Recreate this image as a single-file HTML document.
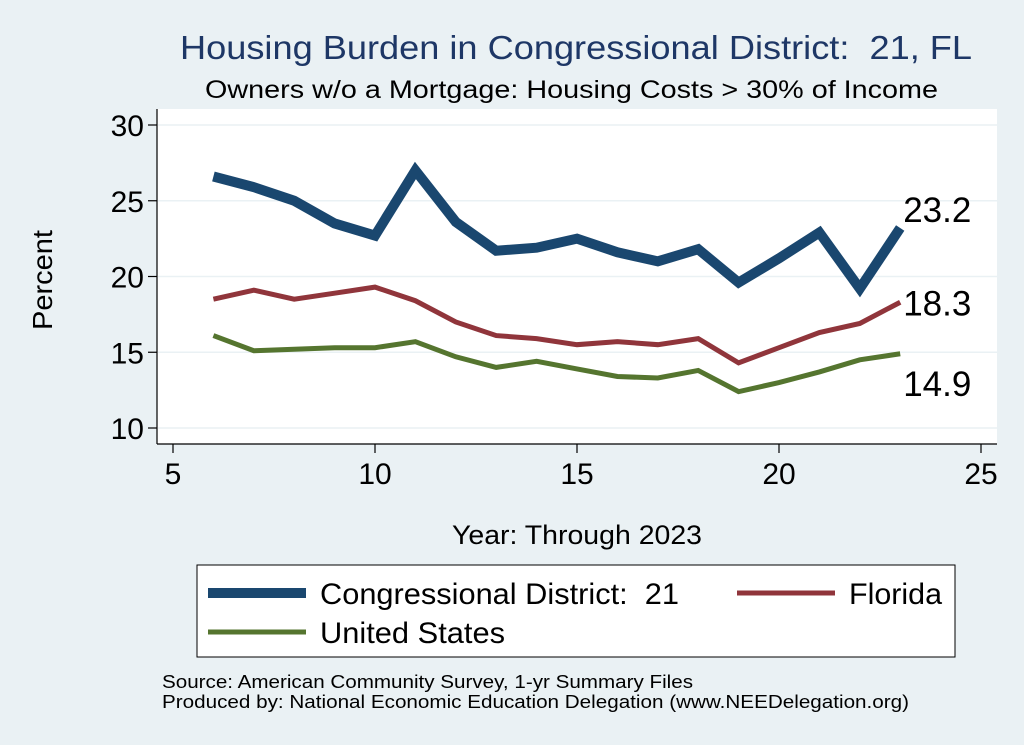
<!DOCTYPE html>
<html><head><meta charset="utf-8"><style>
body{margin:0;background:#eaf1f4;font-family:"Liberation Sans",sans-serif}
svg{display:block}
text{white-space:pre}
</style></head><body>
<svg width="1024" height="745" viewBox="0 0 1024 745" xmlns="http://www.w3.org/2000/svg" xml:space="preserve">
<rect x="0" y="0" width="1024" height="745" fill="#eaf1f4"/>
<rect x="157" y="109" width="840" height="335" fill="#ffffff"/>
<text x="180" y="59" font-size="33" fill="#1e3766" textLength="792" lengthAdjust="spacingAndGlyphs">Housing Burden in Congressional District:  21, FL</text>
<text x="205" y="98" font-size="25" fill="#000" textLength="733" lengthAdjust="spacingAndGlyphs">Owners w/o a Mortgage: Housing Costs &gt; 30% of Income</text>
<g id="grid"></g><g id="axes"></g><g id="series"></g>
<text x="52" y="280" text-anchor="middle" font-size="28" transform="rotate(-90 52 280)" textLength="100" lengthAdjust="spacingAndGlyphs">Percent</text>
<text x="452" y="544" font-size="27" textLength="250" lengthAdjust="spacingAndGlyphs">Year: Through 2023</text>
<g>
<rect x="197" y="565" width="758" height="92" fill="#fff" stroke="#000" stroke-width="1"/>
<line x1="208" y1="593" x2="306" y2="593" stroke="#1a476f" stroke-width="10"/>
<text x="320" y="604" font-size="30" textLength="359" lengthAdjust="spacingAndGlyphs">Congressional District:  21</text>
<line x1="737" y1="593" x2="835" y2="593" stroke="#90353b" stroke-width="5"/>
<text x="849" y="604" font-size="30" textLength="93" lengthAdjust="spacingAndGlyphs">Florida</text>
<line x1="208" y1="632" x2="306" y2="632" stroke="#55752f" stroke-width="5"/>
<text x="320" y="643" font-size="30" textLength="185" lengthAdjust="spacingAndGlyphs">United States</text>
</g>
<text x="162" y="688" font-size="18" textLength="531" lengthAdjust="spacingAndGlyphs">Source: American Community Survey, 1-yr Summary Files</text>
<text x="162" y="708" font-size="18" textLength="747" lengthAdjust="spacingAndGlyphs">Produced by: National Economic Education Delegation (www.NEEDelegation.org)</text>
</svg>
<script>
const years=[6,7,8,9,10,11,12,13,14,15,16,17,18,19,20,21,22,23];
const cd21=[26.6,25.9,25.0,23.5,22.7,27.0,23.6,21.7,21.9,22.5,21.6,21.0,21.8,19.6,21.2,22.9,19.2,23.2];
const florida=[18.5,19.1,18.5,18.9,19.3,18.4,17.0,16.1,15.9,15.5,15.7,15.5,15.9,14.3,15.3,16.3,16.9,18.3];
const us=[16.1,15.1,15.2,15.3,15.3,15.7,14.7,14.0,14.4,13.9,13.4,13.3,13.8,12.4,13.0,13.7,14.5,14.9];
const xTicks=[5,10,15,20,25];
const yTicks=[10,15,20,25,30];
const NS="http://www.w3.org/2000/svg";
const X=v=>173+(v-5)*40.4;
const Y=v=>428-(v-10)*15.15;
function mk(t,a,p){const e=document.createElementNS(NS,t);for(const k in a)e.setAttribute(k,a[k]);p.appendChild(e);return e;}
const grid=document.getElementById('grid'),axes=document.getElementById('axes'),ser=document.getElementById('series');
yTicks.forEach(v=>{
 const g=mk('line',{x1:158,x2:997,y1:Y(v),y2:Y(v),stroke:'#eaf1f4','stroke-width':1.5},grid);
 
 
 const t=mk('line',{x1:148,x2:157,y1:Y(v),y2:Y(v),stroke:'#000','stroke-width':1.2},axes);
 
 
 const l=mk('text',{x:144,y:Y(v)+11,'text-anchor':'end','font-size':30},axes);l.textContent=v;
 
 
});
xTicks.forEach(v=>{
 const t=mk('line',{x1:X(v),x2:X(v),y1:444,y2:453,stroke:'#000','stroke-width':1.2},axes);
 
 
 const l=mk('text',{x:X(v),y:484,'text-anchor':'middle','font-size':30},axes);l.textContent=v;
 
 
});
const ya=mk('line',{x1:157,x2:157,y1:109,y2:444,stroke:'#000','stroke-width':1.2},axes);


const xa=mk('line',{x1:157,x2:997,y1:444,y2:444,stroke:'#000','stroke-width':1.2},axes);


function line(vals,col,w,name,dy){
 const p=mk('polyline',{points:vals.map((v,i)=>X(years[i])+','+Y(v)).join(' '),fill:'none',stroke:col,'stroke-width':w,'stroke-linejoin':'miter'},ser);
 
 
 const lv=vals[vals.length-1];
 const t=mk('text',{x:X(years[years.length-1])+3,y:Y(lv)+dy,'font-size':35},ser);t.textContent=lv.toFixed(1);
 
 
}
line(us,'#55752f',5,'line-us',42);
line(florida,'#90353b',5,'line-florida',13);
line(cd21,'#1a476f',10,'line-cd21',-6);
</script>
</body></html>
